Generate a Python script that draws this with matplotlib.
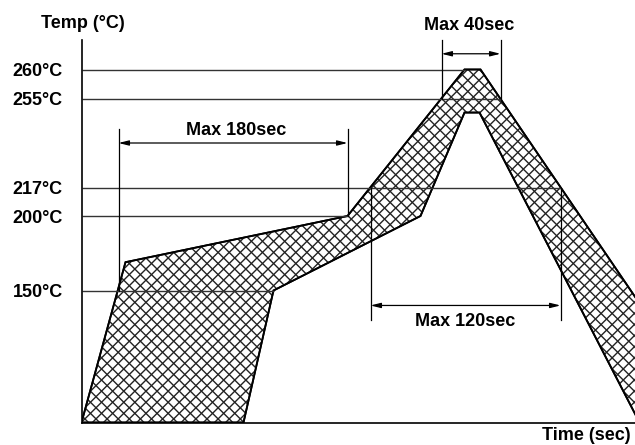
import numpy as np
import matplotlib
matplotlib.use("Agg")
import matplotlib.pyplot as plt
from matplotlib.patches import Polygon
from matplotlib.collections import LineCollection
from matplotlib.transforms import IdentityTransform

plt.rcParams['font.family'] = ['Liberation Sans', 'DejaVu Sans']
plt.rcParams['font.weight'] = 'bold'

# Reflow soldering profile window (schematic time axis, temperature in °C)
upper_time = [0, 44, 266, 383, 399, 639]
upper_temp = [0, 169, 200, 260, 260, 0]
lower_time = [162, 192, 339, 383, 398, 558]
lower_temp = [0, 150, 200, 249, 249, 0]

# Reference temperature levels and where each guide line stops
level_temps = [260, 255, 217, 200, 150]
level_labels = ["260°C", "255°C", "217°C", "200°C", "150°C"]
level_ends = [383, 419, 479, 266, 192]

# Timing limits: (label, start, end, guide from, guide to, arrow at)
limit_labels = ["Max 180sec", "Max 40sec", "Max 120sec"]
limit_start = [37, 360, 289]
limit_end = [266, 419, 479]
limit_start_from = [150, 255, 217]
limit_end_from = [200, 255, 217]
limit_guide_to = [242, 275, 116]
limit_arrow_at = [236, 268, 133]
limit_text_x = [155, 388, 384]
limit_text_dy = [8, 23.5, -21]

# Schematic (non-linear) temperature axis
TEMP_KNOTS = [0, 150, 200, 217, 255, 260, 275]
HEIGHT_KNOTS = [0, 132, 206.5, 235, 324, 353, 382.5]


def fwd(t):
    return np.interp(t, TEMP_KNOTS, HEIGHT_KNOTS)


def inv(h):
    return np.interp(h, HEIGHT_KNOTS, TEMP_KNOTS)


W, H = 635, 445
fig = plt.figure(figsize=(W / 100, H / 100), dpi=100)
ax = fig.add_axes([81.5 / W, 22.5 / H, (W - 81.5) / W, (422.5 - 40) / H])
ax.set_yscale('function', functions=(fwd, inv))
ax.set_xlim(0, W - 81.5)
ax.set_ylim(0, 275)

for s in ('top', 'right'):
    ax.spines[s].set_visible(False)
for s in ('left', 'bottom'):
    ax.spines[s].set_linewidth(1.2)
    ax.spines[s].set_color('black')
    ax.spines[s].set_zorder(6)

ax.set_xticks([])
ax.set_yticks(level_temps, level_labels)
ax.tick_params(axis='y', length=0, pad=13.5, labelsize=13)
for lbl in ax.get_yticklabels():
    lbl.set_fontweight('bold')

# Process window polygon
verts = list(zip(upper_time, upper_temp)) + list(zip(lower_time, lower_temp))[::-1]
poly = Polygon(verts, closed=True, facecolor='white', edgecolor='black',
               linewidth=1.3, zorder=2)
ax.add_patch(poly)

# Cross-hatching in pixel space, clipped to the window
step = 11.1
segs = []
for c in np.arange(-W - H, W + H, step):
    segs.append([(0, c), (W + H, c + W + H)])
    segs.append([(0, c + W + H), (W + H, c)])
hatch = LineCollection(segs, colors='#222222', linewidths=1.0,
                       transform=IdentityTransform(), zorder=3)
ax.add_collection(hatch, autolim=False)
hatch.set_clip_path(poly)

# Edge outline on top of hatching
outline = Polygon(verts, closed=True, fill=False, edgecolor='black',
                  linewidth=1.3, zorder=4)
ax.add_patch(outline)

# Temperature guide lines
for t, xe in zip(level_temps, level_ends):
    ax.plot([0, xe], [t, t], color='#333333', lw=1.0, zorder=5,
            solid_capstyle='butt')

# Timing brackets
for lab, xs, xe, fs, fe, gt, ya, tx, dy in zip(
        limit_labels, limit_start, limit_end, limit_start_from, limit_end_from,
        limit_guide_to, limit_arrow_at, limit_text_x, limit_text_dy):
    ax.plot([xs, xs], [fs, gt], color='black', lw=0.9, zorder=5, clip_on=False)
    ax.plot([xe, xe], [fe, gt], color='black', lw=0.9, zorder=5, clip_on=False)
    ax.annotate('', xy=(xs, ya), xytext=(xe, ya),
                arrowprops=dict(arrowstyle='<|-|>,head_length=0.6,head_width=0.15',
                                color='black', lw=0.9, shrinkA=0, shrinkB=0,
                                mutation_scale=10),
                zorder=5, annotation_clip=False)
    ax.annotate(lab, xy=(tx, ya), xytext=(0, dy), textcoords='offset pixels',
                ha='center', va='baseline', fontsize=13, fontweight='bold',
                annotation_clip=False)

fig.text(82.7 / W, 1 - 28 / H, "Temp (°C)", ha='center', va='baseline',
         fontsize=13, fontweight='bold')
fig.text(631 / W, 1 - 440 / H, "Time (sec)", ha='right', va='baseline',
         fontsize=13, fontweight='bold')

fig.savefig("out.png", dpi=100)
